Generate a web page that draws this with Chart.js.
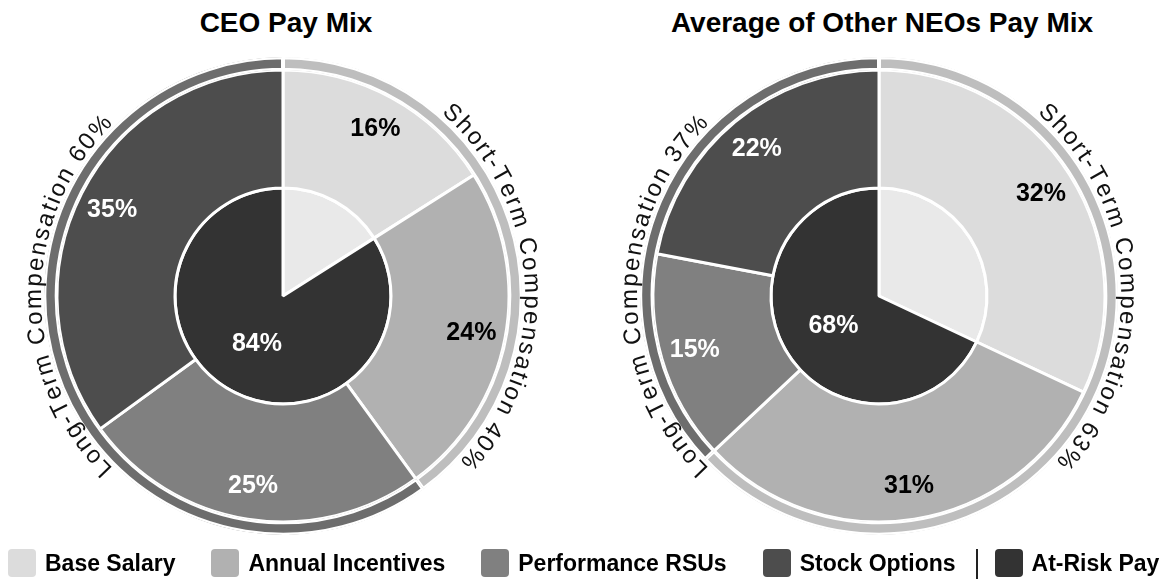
<!DOCTYPE html>
<html>
<head>
<meta charset="utf-8">
<title>Pay Mix</title>
<script src="https://cdn.jsdelivr.net/npm/chart.js@4.4.1/dist/chart.umd.min.js"></script>
<style>
  body { margin: 0; background: #fff; font-family: "Liberation Sans", Arial, sans-serif; }
  .page { position: relative; width: 1160px; height: 579px; overflow: hidden; }
  .title { position: absolute; top: 9px; width: 560px; text-align: center; font-weight: bold; font-size: 28px; line-height: 28px; color: #000; }
  .chart-box { position: absolute; top: 26px; width: 560px; height: 540px; }
  .legend { position: absolute; left: 8px; top: 549px; height: 28px; display: flex; align-items: center; }
  .legend-item { display: flex; align-items: center; margin-right: 36px; font-weight: bold; font-size: 23px; line-height: 28px; color: #000; white-space: nowrap; }
  .swatch { width: 28px; height: 28px; border-radius: 4px; margin-right: 9px; }
  .legend-sep { width: 2px; height: 32px; margin: 0 17px 0 -16px; background: #222; position: relative; top: 2px; }
</style>
</head>
<body>
<div class="page">
  <div class="title" id="title-ceo" style="left: 6px;"></div>
  <div class="title" id="title-neo" style="left: 602px;"></div>
  <div class="chart-box" style="left: 3px;"><canvas id="chart-ceo" width="560" height="540"></canvas></div>
  <div class="chart-box" style="left: 599px;"><canvas id="chart-neo" width="560" height="540"></canvas></div>
  <div class="legend" id="legend"></div>
</div>
<script>
// Pay mix charts: outer term ring, component ring, inner at-risk pie

const TITLES = ["CEO Pay Mix", "Average of Other NEOs Pay Mix"];

const TERM_LABELS = ["Short-Term Compensation", "Long-Term Compensation"];
const CEO_TERM = [40, 60];
const NEO_TERM = [63, 37];

const COMPONENT_LABELS = ["Base Salary", "Annual Incentives", "Performance RSUs", "Stock Options"];
const CEO_COMPONENTS = [16, 24, 25, 35];
const NEO_COMPONENTS = [32, 31, 15, 22];

const MIX_LABELS = ["Base Salary", "At-Risk Pay"];
const CEO_MIX = [16, 84];
const NEO_MIX = [32, 68];

const LEGEND_LABELS = ["Base Salary", "Annual Incentives", "Performance RSUs", "Stock Options", "At-Risk Pay"];

const TERM_COLORS = ["#bebebe", "#6d6d6d"];
const COMPONENT_COLORS = ["#dcdcdc", "#b1b1b1", "#808080", "#4d4d4d"];
const MIX_COLORS = ["#e9e9e9", "#333333"];
const LEGEND_COLORS = ["#dcdcdc", "#b1b1b1", "#808080", "#4d4d4d", "#333333"];

const FONT = "'Liberation Sans', Arial, sans-serif";

function isLight(hex) {
  const n = parseInt(hex.slice(1), 16);
  const r = (n >> 16) & 255, g = (n >> 8) & 255, b = n & 255;
  return 0.299 * r + 0.587 * g + 0.114 * b > 150;
}

// percentage labels inside the arcs
const valueLabelPlugin = {
  id: "valueLabels",
  afterDatasetsDraw(chart) {
    const ctx = chart.ctx;
    ctx.save();
    ctx.font = `bold 25px ${FONT}`;
    ctx.textAlign = "center";
    ctx.textBaseline = "middle";
    chart.data.datasets.forEach((ds, di) => {
      if (!ds.showValues) return;
      const meta = chart.getDatasetMeta(di);
      meta.data.forEach((arc, i) => {
        if (!ds.showValues[i]) return;
        const p = arc.getProps(["x", "y", "startAngle", "endAngle", "innerRadius", "outerRadius"], true);
        const mid = (p.startAngle + p.endAngle) / 2;
        const r = p.innerRadius + ds.labelPos * (p.outerRadius - p.innerRadius);
        ctx.fillStyle = isLight(ds.backgroundColor[i]) ? "#000" : "#fff";
        ctx.fillText(ds.data[i] + "%", p.x + r * Math.cos(mid), p.y + r * Math.sin(mid) + 1);
      });
    });
    ctx.restore();
  },
};

// curved term labels round the outer ring
const arcTextPlugin = {
  id: "arcText",
  afterDatasetsDraw(chart) {
    const ctx = chart.ctx;
    const ds = chart.data.datasets[0];
    const arc = chart.getDatasetMeta(0).data[0];
    const { x, y, outerRadius } = arc.getProps(["x", "y", "outerRadius"], true);
    const rb = outerRadius + 3;
    const centres = [87, 270];
    const spacing = 2;
    ctx.save();
    ctx.font = `24px ${FONT}`;
    ctx.fillStyle = "#111";
    ctx.textAlign = "center";
    ctx.textBaseline = "alphabetic";
    ds.data.forEach((v, i) => {
      const chars = [...`${ds.termLabels[i]} ${v}%`];
      const widths = chars.map((ch) => ctx.measureText(ch).width);
      const total = widths.reduce((a, b) => a + b, 0) + spacing * (chars.length - 1);
      let a = (centres[i] * Math.PI) / 180 - total / 2 / rb;
      chars.forEach((ch, k) => {
        const ang = a + widths[k] / 2 / rb;
        ctx.save();
        ctx.translate(x + rb * Math.sin(ang), y - rb * Math.cos(ang));
        ctx.rotate(ang);
        ctx.fillText(ch, 0, 0);
        ctx.restore();
        a += (widths[k] + spacing) / rb;
      });
    });
    ctx.restore();
  },
};

function buildChart(canvas, term, components, mix) {
  return new Chart(canvas, {
    type: "doughnut",
    data: {
      labels: COMPONENT_LABELS,
      datasets: [
        {
          label: "Term",
          data: term,
          termLabels: TERM_LABELS,
          backgroundColor: TERM_COLORS,
          borderColor: "#fff",
          borderWidth: 2,
          borderAlign: "inner",
          weight: 13,
        },
        {
          label: "Components",
          data: components,
          backgroundColor: COMPONENT_COLORS,
          borderColor: "#fff",
          borderWidth: 3,
          weight: 118,
          showValues: [true, true, true, true],
          labelPos: 0.71,
        },
        {
          label: "Mix",
          data: mix,
          backgroundColor: MIX_COLORS,
          borderColor: "#fff",
          borderWidth: 3,
          weight: 108,
          showValues: [false, true],
          labelPos: 0.5,
        },
      ],
    },
    options: {
      responsive: false,
      animation: false,
      events: [],
      cutout: 0,
      radius: 239,
      layout: { padding: 0 },
      plugins: {
        legend: { display: false },
        tooltip: { enabled: false },
      },
    },
    plugins: [valueLabelPlugin, arcTextPlugin],
  });
}

document.getElementById("title-ceo").textContent = TITLES[0];
document.getElementById("title-neo").textContent = TITLES[1];

buildChart(document.getElementById("chart-ceo"), CEO_TERM, CEO_COMPONENTS, CEO_MIX);
buildChart(document.getElementById("chart-neo"), NEO_TERM, NEO_COMPONENTS, NEO_MIX);

const legend = document.getElementById("legend");
legend.innerHTML = LEGEND_LABELS.map((label, i) => {
  const sep = i === LEGEND_LABELS.length - 1 ? '<div class="legend-sep"></div>' : "";
  return `${sep}<div class="legend-item"><span class="swatch" style="background:${LEGEND_COLORS[i]}"></span>${label}</div>`;
}).join("");
</script>
</body>
</html>
